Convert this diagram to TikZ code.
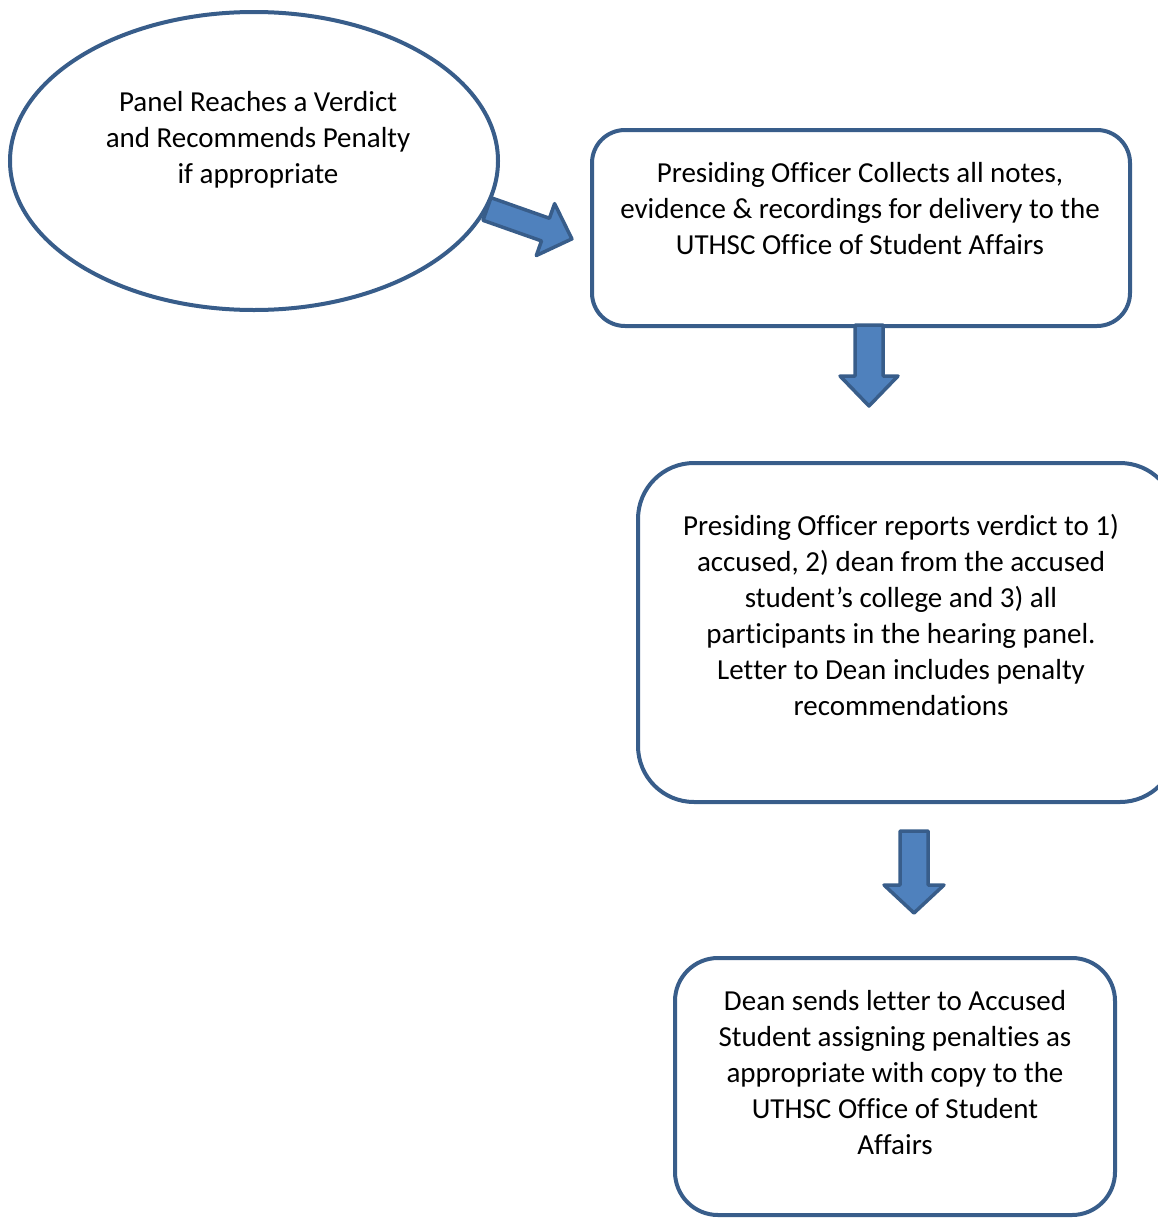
\documentclass[tikz,border=0pt]{standalone}
\usepackage{fontspec}
\setmainfont[Ligatures=NoCommon,RawFeature={-liga;-clig;-dlig}]{Carlito}
\usetikzlibrary{shapes.geometric}
\definecolor{bordc}{HTML}{385D8A}
\definecolor{fillc}{HTML}{4F81BD}
\newcommand\zk{\kern0pt}
\begin{document}
\begin{tikzpicture}[x=1pt,y=-1pt,
  shapeline/.style={draw=bordc,line width=4pt,fill=white},
  txt/.style={align=center,inner sep=0pt,font=\fontsize{29}{36}\selectfont},
  blockarrow/.style={draw=bordc,line width=3.5pt,fill=fillc,line join=round}]
\useasboundingbox (0,0) rectangle (1158,1218);
\begin{scope}
\clip (0,0) rectangle (1158,1218);
\node[shapeline,ellipse,minimum width=488pt,minimum height=298pt,inner sep=0pt] (ell) at (254,161) {};
\node[txt] (tell) at (258,140) {Panel Reaches a Verdict\\and Recommends Penalty\\if appropriate};

\node[shapeline,rectangle,rounded corners=33pt,minimum width=538pt,minimum height=196pt,inner sep=0pt] (b1) at (861,228) {};
\node[txt] (tb1) at (860,209) {Presiding Of\zk f\zk icer Collects all notes,\\evidence \& recordings for delivery to the\\UTHSC Of\zk f\zk ice of Student Af\zk fairs};

\node[shapeline,rectangle,rounded corners=56pt,minimum width=538pt,minimum height=339pt,inner sep=0pt] (b2) at (907,632.5) {};
\node[txt] (tb2) at (901,615) {Presiding Of\zk f\zk icer reports verdict to 1)\\accused, 2) dean from the accused\\student’s college and 3) all\\par\zk ti\zk cipants in the hearing panel.\\Let\zk ter to Dean includes penalty\\recommenda\zk tions};

\node[shapeline,rectangle,rounded corners=43pt,minimum width=440pt,minimum height=257pt,inner sep=0pt] (b3) at (895,1086.5) {};
\node[txt] (tb3) at (895,1073) {Dean sends let\zk ter to Accused\\Student assigning penal\zk ties as\\appropriate with copy to the\\UTHSC Of\zk f\zk ice of Student\\Af\zk fairs};

% block arrow 1 (ellipse -> box 1)
\coordinate (a1) at (487,209);
\draw[blockarrow] [rotate around={-19.4:(a1)}]
  ([shift={(0,-12)}]a1) -- ([shift={(62,-12)}]a1) -- ([shift={(62,-27.5)}]a1)
  -- ([shift={(90,0)}]a1) -- ([shift={(62,27.5)}]a1) -- ([shift={(62,12)}]a1)
  -- ([shift={(0,12)}]a1) -- cycle;

% block arrow 2 (box 1 -> box 2)
\coordinate (a2) at (869,325);
\draw[blockarrow] ([shift={(-14,0)}]a2) -- ([shift={(14,0)}]a2) -- ([shift={(14,51)}]a2)
  -- ([shift={(29,51)}]a2) -- ([shift={(0,81)}]a2) -- ([shift={(-29,51)}]a2)
  -- ([shift={(-14,51)}]a2) -- cycle;

% block arrow 3 (box 2 -> box 3)
\coordinate (a3) at (914,831);
\draw[blockarrow] ([shift={(-14,0)}]a3) -- ([shift={(14,0)}]a3) -- ([shift={(14,54)}]a3)
  -- ([shift={(30,54)}]a3) -- ([shift={(0,82)}]a3) -- ([shift={(-30,54)}]a3)
  -- ([shift={(-14,54)}]a3) -- cycle;
\end{scope}
\end{tikzpicture}
\end{document}
